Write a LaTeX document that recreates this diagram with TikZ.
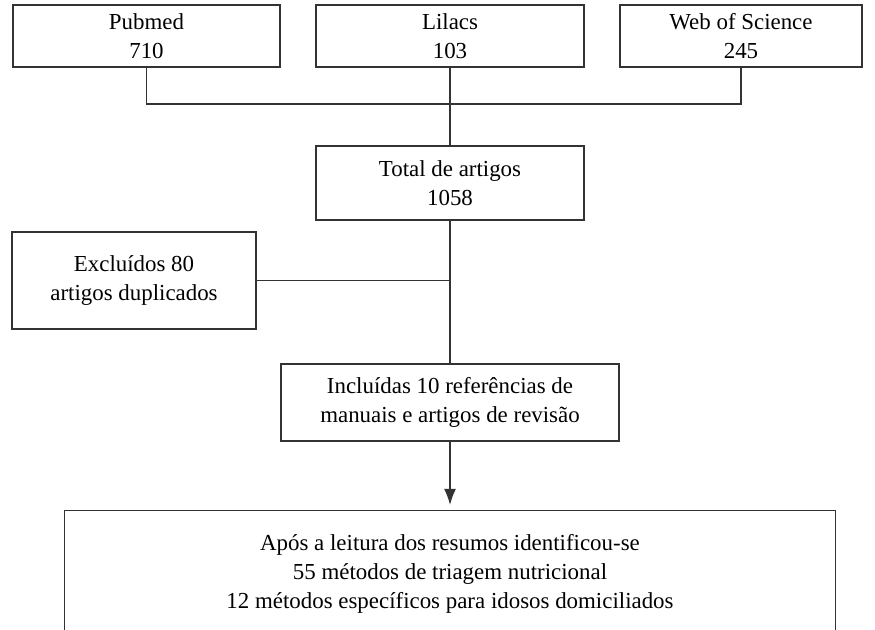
\documentclass[tikz,border=0pt]{standalone}
\usepackage{fontspec}
\setmainfont{Liberation Serif}
\usetikzlibrary{positioning,arrows.meta}

\begin{document}
\begin{tikzpicture}[%
>={Latex[length=16pt,width=12pt]},
x=1pt, y=-1pt,
on grid,
font=\fontsize{22.9}{29}\selectfont,
box/.style={draw=black!80, line width=1.1pt, align=center, inner sep=0pt},
wire/.style={draw=black!80, line width=1.1pt}
]
\useasboundingbox (0,0) rectangle (875,629);
\clip (0,0) rectangle (875,629);

\node[box, minimum width=268pt, minimum height=62pt] (1) at (450,36) {Lilacs\\103};
\node[box, minimum width=267pt, minimum height=62pt] (0) [left=303.5pt of 1] {Pubmed\\710};
\node[box, minimum width=242pt, minimum height=62pt] (2) [right=291pt of 1] {Web of Science\\245};
\node[box, minimum width=268pt, minimum height=74pt] (3) [below=147pt of 1] {Total de artigos\\1058};
\node[box, minimum width=244pt, minimum height=97pt] (4) [below left=97.5pt and 316pt of 3] {Excluídos 80\\artigos duplicados};
\node[box, minimum width=338pt, minimum height=77pt] (5) [below=219.5pt of 3] {Incluídas 10 referências de\\manuais e artigos de revisão};
\node[align=center, inner sep=0pt, minimum width=771pt, minimum height=126pt] (6) [below=171.5pt of 5] {Após a leitura dos resumos identificou-se\\55 métodos de triagem nutricional\\12 métodos específicos para idosos domiciliados};
\coordinate (j) at (450,104);

\path[wire] (0.south) |- (j) -| (2.south);
\path[wire] (1.south) -- (3.north);
\path[wire] (3.south) -- (5.north);
\path[wire] (4.east) -- (4.east -| 3.south);
\path[wire, ->, shorten >=6pt] (5) -- (6);
\path[wire] (6.south west) -- (6.north west) -- (6.north east) -- (6.south east);

\end{tikzpicture}
\end{document}
